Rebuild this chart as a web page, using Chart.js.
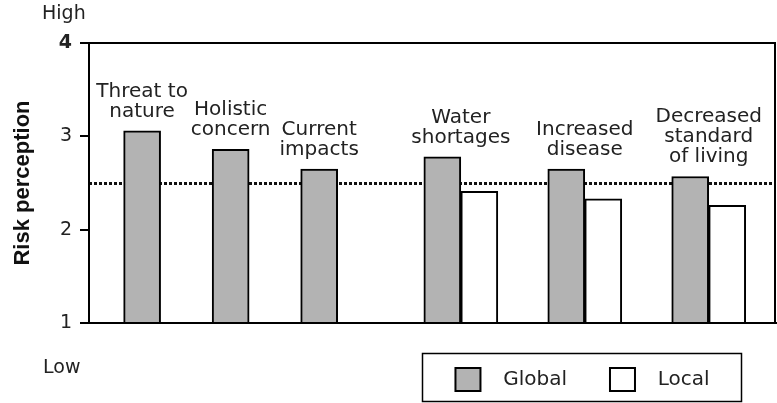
<!DOCTYPE html>
<html><head><meta charset="utf-8">
<script src="https://cdn.jsdelivr.net/npm/chart.js@4.4.1/dist/chart.umd.min.js"></script>
<style>html,body{margin:0;padding:0;background:#fff;}canvas{display:block;}</style>
</head><body>
<canvas id="c" width="777" height="403"></canvas>
<script>
// ---- data ----
const categories = [['Threat to','nature'],['Holistic','concern'],['Current','impacts'],['Water','shortages'],['Increased','disease'],['Decreased','standard','of living']];
const groupSlots = [1, 2, 3, 4.6, 6, 7.4];
const globalValues = [3.06, 2.86, 2.65, 2.78, 2.65, 2.57];
const localValues = [null, null, null, 2.41, 2.33, 2.26];
const yTicks = [1, 2, 3, 4];
const referenceLevel = 2.5;
const seriesNames = ['Global', 'Local'];
const axisTitle = 'Risk perception';
const highLabel = 'High';
const lowLabel = 'Low';

const FONT = '"DejaVu Sans", sans-serif';
const TXT = '#222';

const decor = {
  id: 'decor',
  afterLayout(chart) {
    const lg = chart.legend;
    lg.left = 394; lg.right = 771; lg.width = lg.right - lg.left;
    lg.top = 325; lg.bottom = 402; lg.height = 77;
  },
  beforeDatasetsDraw(chart) {
    const {ctx, chartArea: a, scales: {y}} = chart;
    const yy = Math.round(y.getPixelForValue(referenceLevel)) + 0.5;
    ctx.save();
    ctx.strokeStyle = '#111'; ctx.lineWidth = 3; ctx.setLineDash([3, 2]);
    ctx.beginPath(); ctx.moveTo(a.left, yy); ctx.lineTo(a.right, yy); ctx.stroke();
    ctx.restore();
  },
  afterDatasetsDraw(chart) {
    const {ctx, scales: {x, y}} = chart;
    ctx.save();
    ctx.font = '20px ' + FONT; ctx.fillStyle = TXT;
    ctx.textAlign = 'center'; ctx.textBaseline = 'alphabetic';
    categories.forEach((lines, i) => {
      const top = Math.max(globalValues[i], localValues[i] ?? -Infinity);
      const cx = x.getPixelForValue(groupSlots[i]);
      const base = y.getPixelForValue(top) - 14;
      lines.forEach((t, k) => {
        ctx.fillText(t, cx, base - (lines.length - 1 - k) * 20);
      });
    });
    ctx.restore();
  },
  afterDraw(chart) {
    const {ctx, chartArea: a, scales: {y}} = chart;
    ctx.save();
    ctx.strokeStyle = '#000'; ctx.lineWidth = 2;
    ctx.strokeRect(a.left, a.top, a.right - a.left - 1, a.bottom - a.top);
    // legend frame
    ctx.lineWidth = 1.5;
    ctx.strokeRect(422.5, 353.5, 319, 48);
    ctx.font = '19px ' + FONT; ctx.fillStyle = TXT; ctx.textAlign = 'left';
    ctx.fillText(highLabel, a.left - 47, y.getPixelForValue(4) - 29);
    ctx.fillText(lowLabel, a.left - 46, y.getPixelForValue(1) + 45);
    ctx.restore();
  }
};

new Chart(document.getElementById('c'), {
  type: 'bar',
  data: {
    datasets: [
      { label: seriesNames[0], data: globalValues.map((v, i) => ({x: groupSlots[i], y: v})),
        backgroundColor: '#b3b3b3', borderColor: '#000', borderWidth: 2, base: 1 },
      { label: seriesNames[1], data: localValues.map((v, i) => ({x: groupSlots[i], y: v})),
        backgroundColor: '#ffffff', borderColor: '#000', borderWidth: 2, base: 1 }
    ]
  },
  options: {
    responsive: false, animation: false, devicePixelRatio: 1,
    layout: { padding: { left: 0, right: 1, top: 43, bottom: 4 } },
    datasets: { bar: { barThickness: 37, skipNull: true, grouped: true } },
    scales: {
      x: {
        type: 'linear', min: 0.4, max: 8.16, offset: false,
        ticks: { display: false }, grid: { display: false, drawTicks: false },
        border: { display: true, color: '#000', width: 2 }
      },
      y: {
        min: 1, max: 4,
        afterBuildTicks: s => { s.ticks = yTicks.map(v => ({value: v})); },
        afterFit: s => { s.width = 89; },
        ticks: { padding: 8, color: TXT,
          font: c => ({ family: FONT, size: 19, weight: c.tick && c.tick.value === 4 ? 'bold' : 'normal' }) },
        grid: { drawOnChartArea: false, drawTicks: true, tickLength: 9, color: '#000', lineWidth: 2 },
        border: { display: true, color: '#000', width: 2 },
        title: { display: true, text: axisTitle, color: '#111', padding: { top: 10, bottom: 0 },
          font: { family: '"Liberation Sans", Arial, sans-serif', size: 22, weight: 'bold' } }
      }
    },
    plugins: {
      tooltip: { enabled: false },
      legend: {
        position: 'bottom', align: 'center',
        labels: {
          boxWidth: 25, boxHeight: 23, padding: 43, color: TXT,
          font: { family: FONT, size: 20 },
          generateLabels: (chart) => Chart.defaults.plugins.legend.labels.generateLabels(chart)
            .map(l => ({...l, text: '  ' + l.text, lineWidth: 2}))
        }
      }
    }
  },
  plugins: [decor]
});
</script>
</body></html>
